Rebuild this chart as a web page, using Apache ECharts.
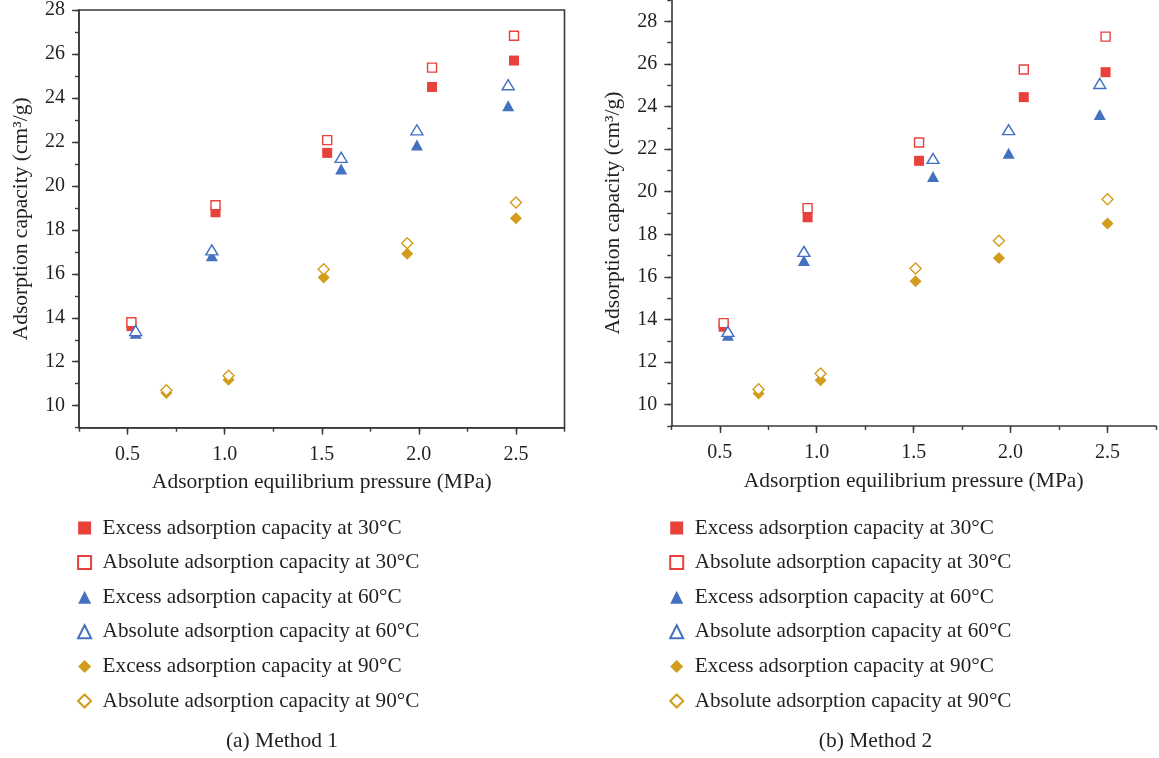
<!DOCTYPE html>
<html>
<head>
<meta charset="utf-8">
<script src="https://cdn.jsdelivr.net/npm/echarts@6/dist/echarts.min.js"></script>
<style>
  html, body { margin: 0; padding: 0; background: #fff; }
  #chart { width: 1159px; height: 758px; }
</style>
</head>
<body>
<div id="chart"></div>
<script>
// pressure (MPa) per point
const xExcess30 = [0.52, 0.953, 1.528, 2.068, 2.49];
const xExcess60 = [0.542, 0.934, 1.60, 1.99, 2.46];
const xExcess90 = [0.70, 1.02, 1.51, 1.94, 2.50];

// (a) Method 1
const m1Excess30 = [13.62, 18.80, 21.50, 24.50, 25.70];
const m1Absolute30 = [13.80, 19.12, 22.08, 25.38, 26.83];
const m1Excess60 = [13.30, 16.82, 20.77, 21.86, 23.65];
const m1Absolute60 = [13.42, 17.09, 21.30, 22.55, 24.60];
const m1Excess90 = [10.58, 11.18, 15.83, 16.91, 18.53];
const m1Absolute90 = [10.70, 11.36, 16.21, 17.39, 19.24];

// (b) Method 2
const m2Excess30 = [13.66, 18.80, 21.45, 24.44, 25.61];
const m2Absolute30 = [13.83, 19.23, 22.31, 25.74, 27.28];
const m2Excess60 = [13.26, 16.77, 20.71, 21.81, 23.62];
const m2Absolute60 = [13.44, 17.20, 21.56, 22.91, 25.08];
const m2Excess90 = [10.53, 11.15, 15.80, 16.89, 18.51];
const m2Absolute90 = [10.73, 11.46, 16.39, 17.70, 19.65];

const xLabelTicks = [0.5, 1.0, 1.5, 2.0, 2.5];
const yLabelTicks = [10, 12, 14, 16, 18, 20, 22, 24, 26, 28];

const names = [
  "Excess adsorption capacity at 30°C",
  "Absolute adsorption capacity at 30°C",
  "Excess adsorption capacity at 60°C",
  "Absolute adsorption capacity at 60°C",
  "Excess adsorption capacity at 90°C",
  "Absolute adsorption capacity at 90°C",
];

const RED = "#e8413c";
const BLUE = "#4470c2";
const GOLD = "#d29c1c";
const INK = "#231f20";
const AXIS = "#3a3a3a";
const FONT = "Liberation Serif";

const chart = echarts.init(document.getElementById("chart"));

function pairs(xs, ys) {
  return xs.map((x, i) => [x, ys[i]]);
}

// scatter defaults to 0.8 opacity, the figure uses solid marks
function markerStyles() {
  return [
    { symbol: "rect", symbolSize: 10, itemStyle: { color: RED, opacity: 1 } },
    { symbol: "rect", symbolSize: 9, itemStyle: { color: "#fff", borderColor: RED, borderWidth: 1.4, opacity: 1 } },
    { symbol: "triangle", symbolSize: [12, 11], itemStyle: { color: BLUE, opacity: 1 } },
    { symbol: "triangle", symbolSize: [12, 10], itemStyle: { color: "#fff", borderColor: BLUE, borderWidth: 1.4, opacity: 1 } },
    { symbol: "diamond", symbolSize: 12, itemStyle: { color: GOLD, opacity: 1 } },
    { symbol: "diamond", symbolSize: 11, itemStyle: { color: "#fff", borderColor: GOLD, borderWidth: 1.4, opacity: 1 } },
  ];
}

function buildSeries(sets, gridIndex) {
  const xs = [xExcess30, xExcess30, xExcess60, xExcess60, xExcess90, xExcess90];
  const styles = markerStyles();
  return sets.map((ys, i) => ({
    name: names[i],
    type: "scatter",
    xAxisIndex: gridIndex * 2,
    yAxisIndex: gridIndex * 2,
    symbol: styles[i].symbol,
    symbolSize: styles[i].symbolSize,
    itemStyle: styles[i].itemStyle,
    data: pairs(xs[i], ys),
    z: i % 2 === 0 ? 2 : 3,
  }));
}

function xAxes(gridIndex) {
  return [
    {
      gridIndex,
      type: "value",
      position: "bottom",
      min: 0.25,
      max: 2.75,
      interval: 0.25,
      name: "Adsorption equilibrium pressure (MPa)",
      nameLocation: "middle",
      nameGap: 44,
      nameTextStyle: { fontFamily: FONT, fontSize: 21.5, color: INK },
      axisLine: { onZero: false, lineStyle: { color: AXIS, width: 1.6 } },
      axisTick: { length: 4, lineStyle: { color: AXIS, width: 1.4 } },
      axisLabel: {
        margin: 17,
        fontFamily: FONT,
        fontSize: 20,
        color: INK,
        formatter: (v) => (xLabelTicks.some((t) => Math.abs(t - v) < 1e-6) ? v.toFixed(1) : ""),
      },
      splitLine: { show: false },
    },
    {
      gridIndex,
      type: "value",
      position: "bottom",
      min: 0.25,
      max: 2.75,
      interval: 0.25,
      axisLine: { show: false, onZero: false },
      axisTick: { length: 7, customValues: xLabelTicks, lineStyle: { color: AXIS, width: 1.4 } },
      axisLabel: { show: false },
      splitLine: { show: false },
    },
  ];
}

function yAxes(gridIndex, max) {
  return [
    {
      gridIndex,
      type: "value",
      position: "left",
      min: 9,
      max,
      interval: 1,
      name: "Adsorption capacity (cm³/g)",
      nameLocation: "middle",
      nameGap: 47,
      nameTextStyle: { fontFamily: FONT, fontSize: 21.5, color: INK },
      axisLine: { show: true, onZero: false, lineStyle: { color: AXIS, width: 1.6 } },
      axisTick: { length: 4, lineStyle: { color: AXIS, width: 1.4 } },
      axisLabel: {
        margin: 14,
        fontFamily: FONT,
        fontSize: 20,
        color: INK,
        formatter: (v) => (yLabelTicks.includes(v) ? String(v) : ""),
      },
      splitLine: { show: false },
    },
    {
      gridIndex,
      type: "value",
      position: "left",
      min: 9,
      max,
      interval: 1,
      axisLine: { show: false, onZero: false },
      axisTick: { show: true, length: 7, customValues: yLabelTicks, lineStyle: { color: AXIS, width: 1.4 } },
      axisLabel: { show: false },
      splitLine: { show: false },
    },
  ];
}

function legendAt(iconCenter) {
  return {
    orient: "vertical",
    left: iconCenter - 6.5,
    top: 517,
    padding: 0,
    itemWidth: 13,
    itemHeight: 13,
    itemGap: 12.6,
    selectedMode: false,
    textStyle: { fontFamily: FONT, fontSize: 21.2, lineHeight: 22, color: INK, padding: [0, 0, 0, 6.5] },
    data: names,
  };
}

const option = {
  animation: false,
  backgroundColor: "#fff",
  grid: [
    { left: 79, right: 594.5, top: 9.5, bottom: 330.3, show: true, borderColor: AXIS, borderWidth: 1.6 },
    // panel (b) is cut off at the top and right edge of the figure
    { left: 671.3, right: -1.3, top: -1.4, bottom: 332 },
  ],
  xAxis: [...xAxes(0), ...xAxes(1)],
  yAxis: [...yAxes(0, 28), ...yAxes(1, 29)],
  legend: [legendAt(83.6), legendAt(675.7)],
  graphic: [
    {
      type: "text",
      x: 282,
      y: 741,
      style: { text: "(a) Method 1", fontFamily: FONT, fontSize: 21.5, fill: INK, align: "center", verticalAlign: "middle" },
    },
    {
      type: "text",
      x: 875.5,
      y: 741.5,
      style: { text: "(b) Method 2", fontFamily: FONT, fontSize: 21.5, fill: INK, align: "center", verticalAlign: "middle" },
    },
  ],
  series: [
    ...buildSeries([m1Excess30, m1Absolute30, m1Excess60, m1Absolute60, m1Excess90, m1Absolute90], 0),
    ...buildSeries([m2Excess30, m2Absolute30, m2Excess60, m2Absolute60, m2Excess90, m2Absolute90], 1),
  ],
};

chart.setOption(option);
</script>
</body>
</html>
